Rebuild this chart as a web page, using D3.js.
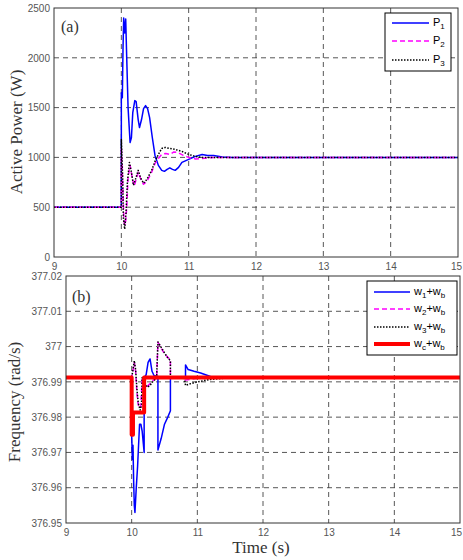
<!DOCTYPE html>
<html>
<head>
<meta charset="utf-8">
<script src="https://cdn.jsdelivr.net/npm/d3@7"></script>
<style>
  body { margin: 0; background: #fff; }
  svg { display: block; }
  .tick text { font-family: "Liberation Sans", Arial, sans-serif; fill: #555; }
  .lbl { font-family: "Liberation Serif", "Times New Roman", serif; fill: #333; }
  .leg { font-family: "Liberation Sans", Arial, sans-serif; fill: #000; }
</style>
</head>
<body>
<div id="chart"></div>
<script>
// ticks
const timeTicks = [9, 10, 11, 12, 13, 14, 15];
const powerTicks = [0, 500, 1000, 1500, 2000, 2500];
const freqTicks = [376.95, 376.96, 376.97, 376.98, 376.99, 377, 377.01, 377.02];
const freqTickLabels = ["376.95", "376.96", "376.97", "376.98", "376.99", "377", "377.01", "377.02"];

// (a) active power, [time, W]
const p1 = [[9,500],[10,500],[10,1650],[10.015,1600],[10.025,2100],[10.035,2400],[10.05,2250],[10.065,2390],
  [10.08,2000],[10.1,1500],[10.13,1150],[10.15,1200],[10.17,1450],[10.2,1570],[10.22,1560],[10.25,1380],
  [10.27,1300],[10.3,1380],[10.33,1490],[10.36,1520],[10.39,1490],[10.42,1400],[10.46,1200],[10.5,1020],
  [10.55,920],[10.6,870],[10.64,860],[10.68,880],[10.72,895],[10.76,880],[10.8,870],[10.85,900],[10.9,950],
  [11.0,980],[11.1,1010],[11.2,1030],[11.28,1020],[11.37,1020],[11.5,1005],[11.65,1000],[15,1000]];
const p2 = [[9,500],[10,500],[10,1100],[10.02,750],[10.04,350],[10.06,320],[10.08,500],[10.1,800],[10.13,920],
  [10.16,800],[10.19,710],[10.22,780],[10.25,850],[10.29,780],[10.33,730],[10.38,760],[10.45,850],[10.5,940],
  [10.55,990],[10.6,1030],[10.66,1040],[10.72,1030],[10.78,1055],[10.84,1050],[10.92,1020],[11.0,1000],
  [11.1,985],[11.2,990],[11.35,1000],[15,1000]];
const p3 = [[9,500],[10,500],[10,1180],[10.02,800],[10.03,400],[10.05,280],[10.07,450],[10.09,750],[10.12,950],
  [10.15,850],[10.18,720],[10.22,800],[10.25,870],[10.29,790],[10.33,740],[10.38,780],[10.45,870],[10.5,960],
  [10.55,1030],[10.6,1090],[10.65,1100],[10.72,1090],[10.8,1080],[10.9,1060],[11.0,1030],[11.1,1010],
  [11.2,1000],[11.4,1000],[15,1000]];

// (b) frequency, [time, rad/s]
const w1 = [[9,376.9912],[10,376.9912],[10,376.975],[10.01,376.968],[10.02,376.972],[10.03,376.962],
  [10.04,376.955],[10.05,376.953],[10.07,376.96],[10.09,376.966],[10.12,376.978],[10.14,376.978],
  [10.16,376.976],[10.19,376.970],[10.19,376.9912],[10.22,376.992],[10.25,376.9955],[10.28,376.9965],
  [10.31,376.993],[10.34,376.9918],[10.4,376.9915],[10.4,376.9707],[10.45,376.974],[10.5,376.978],
  [10.55,376.980],[10.59,376.9818],[10.59,376.9912],[10.82,376.9912],[10.82,376.9948],[10.86,376.9935],
  [10.95,376.993],[11.05,376.9925],[11.2,376.9915],[11.4,376.9912],[15,376.9912]];
const w2 = [[9,376.9912],[10,376.9912],[10.02,376.993],[10.04,376.9955],[10.06,376.993],[10.08,376.987],
  [10.1,376.9835],[10.12,376.9825],[10.14,376.983],[10.16,376.9912],[10.2,376.9895],[10.24,376.9888],
  [10.28,376.9895],[10.33,376.9905],[10.38,376.991],[10.4,377.0012],[10.45,376.9995],[10.5,376.998],
  [10.55,376.997],[10.59,376.9962],[10.59,376.9912],[10.8,376.9912],[10.82,376.9905],[11.0,376.991],
  [15,376.9912]];
const w3 = [[9,376.9912],[10,376.9912],[10.02,376.9935],[10.04,376.996],[10.06,376.9935],[10.08,376.988],
  [10.1,376.984],[10.13,376.982],[10.15,376.9835],[10.16,376.9912],[10.2,376.9893],[10.24,376.9885],
  [10.28,376.989],[10.33,376.9903],[10.38,376.991],[10.4,377.0013],[10.45,376.9998],[10.5,376.9982],
  [10.55,376.9968],[10.59,376.996],[10.59,376.9912],[10.8,376.9912],[10.82,376.989],[10.9,376.9895],
  [11.0,376.990],[11.2,376.9907],[11.4,376.991],[15,376.9912]];
const wc = [[9,376.9912],[10,376.9912],[10,376.975],[10.02,376.975],[10.02,376.9813],[10.19,376.9813],
  [10.19,376.9912],[15,376.9912]];

const W = 463, H = 560;
const svg = d3.select("#chart").append("svg").attr("width", W).attr("height", H);

function panel(id, box, yDomain, yTicks, yFmt, series, legend, tag) {
  const x = d3.scaleLinear().domain([9, 15]).range([box.left, box.right]);
  const y = d3.scaleLinear().domain(yDomain).range([box.bottom, box.top]);
  const g = svg.append("g");

  // grid
  g.append("g").selectAll("line").data(timeTicks.slice(1, -1)).enter().append("line")
    .attr("x1", d => x(d)).attr("x2", d => x(d)).attr("y1", box.top).attr("y2", box.bottom)
    .attr("stroke", "#444").attr("stroke-width", 0.9).attr("stroke-dasharray", "5,4");
  g.append("g").selectAll("line").data(yTicks.slice(1, -1)).enter().append("line")
    .attr("y1", d => y(d)).attr("y2", d => y(d)).attr("x1", box.left).attr("x2", box.right)
    .attr("stroke", "#444").attr("stroke-width", 0.9).attr("stroke-dasharray", "5,4");

  // axes
  const xa = g.append("g").attr("transform", `translate(0,${box.bottom})`)
    .call(d3.axisBottom(x).tickValues(timeTicks).tickSize(0).tickPadding(6).tickFormat(d3.format("d")));
  const ya = g.append("g").attr("transform", `translate(${box.left},0)`)
    .call(d3.axisLeft(y).tickValues(yTicks).tickSize(0).tickPadding(4).tickFormat(yFmt));
  [xa, ya].forEach(a => { a.select(".domain").remove(); a.selectAll("text").attr("font-size", 10); });
  // keep the last time label inside the window
  xa.selectAll("text").filter(d => d === 15).attr("x", -(box.right - 456));

  // lines
  g.append("clipPath").attr("id", id).append("rect")
    .attr("x", box.left).attr("y", box.top).attr("width", box.right - box.left).attr("height", box.bottom - box.top);
  const line = d3.line().x(d => x(d[0])).y(d => y(d[1]));
  series.forEach(s => {
    g.append("path").datum(s.data).attr("clip-path", `url(#${id})`)
      .attr("d", line).attr("fill", "none").attr("stroke", s.color)
      .attr("stroke-width", s.width).attr("stroke-dasharray", s.dash || null)
      .attr("stroke-linejoin", "round");
  });

  // frame
  g.append("rect").attr("x", box.left).attr("y", box.top)
    .attr("width", box.right - box.left).attr("height", box.bottom - box.top)
    .attr("fill", "none").attr("stroke", "#333").attr("stroke-width", 1);

  g.append("text").attr("class", "lbl").attr("x", tag.x).attr("y", tag.y)
    .attr("font-size", 16).text(tag.text);

  // legend
  const L = legend;
  g.append("rect").attr("x", L.x).attr("y", L.y).attr("width", L.w).attr("height", L.h)
    .attr("fill", "#fff").attr("stroke", "#000").attr("stroke-width", 1);
  series.forEach((s, i) => {
    const ly = L.rows[i];
    g.append("line").attr("x1", L.lx1).attr("x2", L.lx2).attr("y1", ly).attr("y2", ly)
      .attr("stroke", s.color).attr("stroke-width", s.width).attr("stroke-dasharray", s.dash || null);
    const t = g.append("text").attr("class", "leg").attr("x", L.tx).attr("y", ly + 3).attr("font-size", 11);
    s.label.forEach(part => {
      if (part.sub) t.append("tspan").attr("font-size", 8).attr("dy", 3).text(part.sub);
      else t.append("tspan").attr("dy", part.back ? -3 : 0).text(part.t);
    });
  });
}

panel("clipA", { left: 54, right: 458, top: 8, bottom: 257 }, [0, 2500], powerTicks, d3.format("d"),
  [
    { data: p1, color: "#0000ff", width: 1.5, label: [{ t: "P" }, { sub: "1" }] },
    { data: p2, color: "#ff00ff", width: 1.5, dash: "5,3", label: [{ t: "P" }, { sub: "2" }] },
    { data: p3, color: "#000", width: 1.5, dash: "1.5,1.5", label: [{ t: "P" }, { sub: "3" }] }
  ],
  { x: 385, y: 13, w: 66, h: 58, rows: [23, 41, 60], lx1: 392, lx2: 429, tx: 433 },
  { x: 61, y: 32, text: "(a)" });

panel("clipB", { left: 66, right: 460, top: 276, bottom: 523 }, [376.95, 377.02], freqTicks,
  (d, i) => freqTickLabels[i],
  [
    { data: w1, color: "#0000ff", width: 1.5, label: [{ t: "w" }, { sub: "1" }, { t: "+w", back: true }, { sub: "b" }] },
    { data: w2, color: "#ff00ff", width: 1.5, dash: "5,3", label: [{ t: "w" }, { sub: "2" }, { t: "+w", back: true }, { sub: "b" }] },
    { data: w3, color: "#000", width: 1.5, dash: "1.5,1.5", label: [{ t: "w" }, { sub: "3" }, { t: "+w", back: true }, { sub: "b" }] },
    { data: wc, color: "#ff0000", width: 4, label: [{ t: "w" }, { sub: "c" }, { t: "+w", back: true }, { sub: "b" }] }
  ],
  { x: 367, y: 281, w: 90, h: 74, rows: [292, 309, 327, 344], lx1: 374, lx2: 410, tx: 414 },
  { x: 72, y: 302, text: "(b)" });

// axis titles
svg.append("text").attr("class", "lbl").attr("font-size", 17).attr("text-anchor", "middle")
  .attr("transform", "translate(22,132) rotate(-90)").text("Active Power (W)");
svg.append("text").attr("class", "lbl").attr("font-size", 17).attr("text-anchor", "middle")
  .attr("transform", "translate(20,402) rotate(-90)").text("Frequency (rad/s)");
svg.append("text").attr("class", "lbl").attr("font-size", 17).attr("text-anchor", "middle")
  .attr("x", 261).attr("y", 553).text("Time (s)");
</script>
</body>
</html>
